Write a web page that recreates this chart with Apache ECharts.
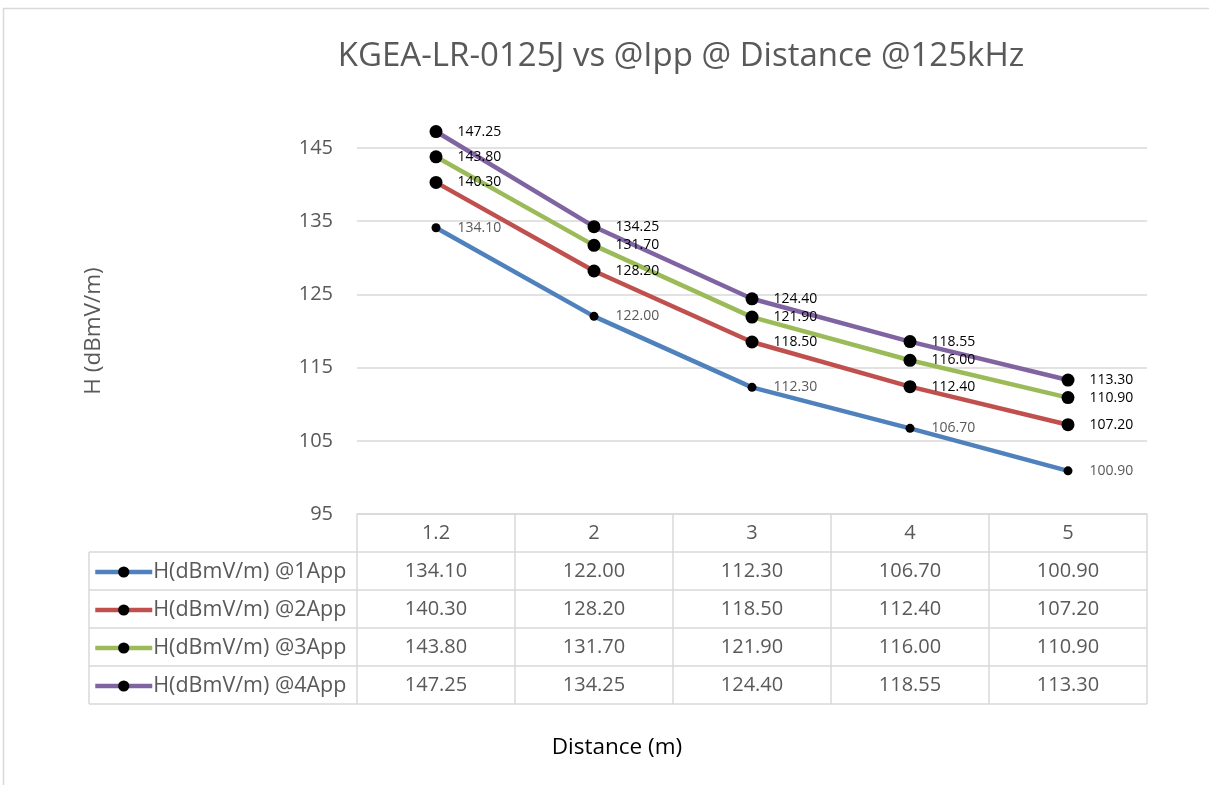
<!DOCTYPE html>
<html>
<head>
<meta charset="utf-8">
<script src="https://cdn.jsdelivr.net/npm/echarts@6/dist/echarts.min.js"></script>
<style>
  html, body { margin: 0; padding: 0; background: #fff; }
  #chart { width: 1209px; height: 785px; }
</style>
</head>
<body>
<div id="chart"></div>
<script>
// data
const distances = ['1.2', '2', '3', '4', '5']
const app1 = [134.10, 122.00, 112.30, 106.70, 100.90]
const app2 = [140.30, 128.20, 118.50, 112.40, 107.20]
const app3 = [143.80, 131.70, 121.90, 116.00, 110.90]
const app4 = [147.25, 134.25, 124.40, 118.55, 113.30]
const seriesNames = ['H(dBmV/m) @1App', 'H(dBmV/m) @2App', 'H(dBmV/m) @3App', 'H(dBmV/m) @4App']
const yMin = 95
const yMax = 145
const yStep = 10

const font = '"Open Sans", Lato, sans-serif'
const textGrey = '#595959'
const lineGrey = '#D9D9D9'
const colors = ['#4F81BD', '#C0504D', '#9BBB59', '#8064A2']
const rows = [app1, app2, app3, app4]

// layout of plot + data table
const gridLeft = 357
const gridRight = 1147
const gridTop = 148
const gridBottom = 514
const headerBottom = 552
const rowH = 38
const tableLeft = 89
const tableBottom = headerBottom + rowH * rows.length
const colW = (gridRight - gridLeft) / distances.length

let chart = echarts.init(document.getElementById('chart'))

const axisLabelStyle = {
  fontFamily: font,
  fontSize: 20,
  color: textGrey,
  margin: 9,
  interval: 0
}

const xAxes = [
  {
    type: 'category',
    data: distances,
    boundaryGap: true,
    axisLine: { lineStyle: { color: lineGrey, width: 1.5 } },
    axisTick: { show: false },
    axisLabel: axisLabelStyle
  }
]
rows.forEach((vals, i) => {
  xAxes.push({
    type: 'category',
    position: 'bottom',
    offset: rowH * (i + 1),
    data: vals.map(v => v.toFixed(2)),
    axisLine: { show: false },
    axisTick: { show: false },
    splitLine: { show: false },
    axisLabel: axisLabelStyle
  })
})

// one legend per table row so each sits in its own row
const legends = seriesNames.map((name, i) => ({
  orient: 'vertical',
  left: 88,
  top: headerBottom + rowH * i + rowH / 2 - 15,
  itemWidth: 57,
  itemHeight: 14,
  data: [name],
  lineStyle: { width: 4.5 },
  textStyle: { fontFamily: font, fontSize: 21.5, color: textGrey, padding: [0, 0, 0, -4] }
}))

// table grid lines
const tableLines = []
const addLine = (x1, y1, x2, y2) => tableLines.push({
  type: 'line',
  shape: { x1, y1, x2, y2 },
  style: { stroke: lineGrey, lineWidth: 1.5 },
  silent: true
})
for (let r = 0; r <= rows.length; r++) {
  const y = headerBottom + rowH * r
  addLine(tableLeft, y, gridRight, y)
}
addLine(tableLeft, headerBottom, tableLeft, tableBottom)
for (let c = 0; c <= distances.length; c++) {
  const x = gridLeft + colW * c
  addLine(x, gridBottom, x, tableBottom)
}

chart.setOption({
  backgroundColor: '#fff',
  animation: false,
  color: colors,
  grid: {
    left: gridLeft,
    right: 1209 - gridRight,
    top: gridTop,
    bottom: 785 - gridBottom
  },
  legend: legends,
  xAxis: xAxes,
  yAxis: {
    type: 'value',
    min: yMin,
    max: yMax,
    interval: yStep,
    name: 'H (dBmV/m)',
    nameLocation: 'middle',
    nameGap: 252,
    nameTextStyle: { fontFamily: font, fontSize: 22.5, color: textGrey },
    axisLine: { show: false },
    axisTick: { show: false },
    axisLabel: { fontFamily: font, fontSize: 20, color: textGrey, margin: 24 },
    splitLine: { lineStyle: { color: lineGrey, width: 1.5 } }
  },
  series: rows.map((vals, i) => ({
    name: seriesNames[i],
    type: 'line',
    xAxisIndex: 0,
    data: vals,
    clip: false,
    symbol: 'circle',
    symbolSize: i === 0 ? 9 : 13,
    lineStyle: { width: 4.5, color: colors[i] },
    itemStyle: { color: '#000' },
    label: {
      show: true,
      position: 'right',
      distance: i === 0 ? 17 : 15,
      formatter: p => p.value.toFixed(2),
      fontFamily: font,
      fontSize: 14,
      color: i === 0 ? textGrey : '#000'
    }
  })),
  graphic: [
    {
      type: 'rect',
      shape: { x: 3.5, y: 8.5, width: 1240, height: 820 },
      style: { fill: 'none', stroke: lineGrey, lineWidth: 1.5 },
      silent: true
    },
    {
      type: 'text',
      x: 681,
      y: 57,
      style: {
        text: 'KGEA-LR-0125J vs @Ipp @ Distance @125kHz',
        fontFamily: font,
        fontSize: 33,
        fill: textGrey,
        align: 'center',
        verticalAlign: 'middle'
      }
    },
    {
      type: 'text',
      x: 617,
      y: 748,
      style: {
        text: 'Distance (m)',
        fontFamily: font,
        fontSize: 22.5,
        fill: '#000',
        align: 'center',
        verticalAlign: 'middle'
      }
    },
    ...tableLines
  ]
})
</script>
</body>
</html>
